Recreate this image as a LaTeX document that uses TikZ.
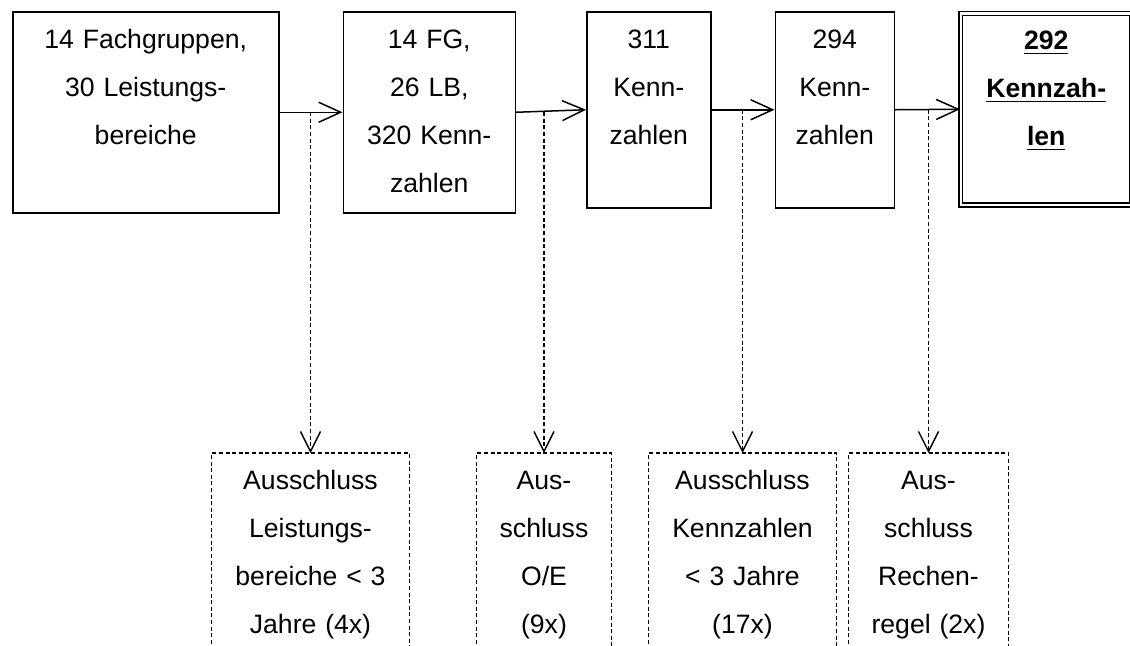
\documentclass[tikz,border=0pt]{standalone}
\usepackage{fontspec}
\setmainfont{Liberation Sans}
\usetikzlibrary{positioning,arrows.meta}

\begin{document}
\begin{tikzpicture}[
    node distance=31.5pt,
    box/.style={rectangle, draw=black, line width=0.75pt, inner sep=0pt, align=center, text height=18.25pt, font=\fontsize{13.3}{24}\selectfont},
    finalbox/.style={box, double, double distance=1.2pt},
    exclbox/.style={rectangle, inner sep=0pt, align=center, text height=18.25pt, text depth=80pt, font=\fontsize{13.3}{24}\selectfont},
    exclline/.style={line width=0.7pt, dash pattern=on 2pt off 1.3pt},
    arrow/.style={-{Straight Barb[length=11pt,width=10pt]}, line width=0.75pt},
    dasharrow/.style={exclline, -{Straight Barb[length=10pt,width=10pt]}}
]
    \useasboundingbox (0,0) rectangle (565pt,-322.5pt);

    % Kennzahlen-Auswahl, Stufen
    \node[box, anchor=north west, text width=133pt, text depth=82.25pt] (stage1) at (6pt,-5.5pt) {14 Fachgruppen,\\30 Leistungs-\\bereiche};
    \node[box, right=of stage1.north east, anchor=north west, text width=86pt, text depth=82.25pt] (stage2) {14 FG,\\26 LB,\\320 Kenn-\\zahlen};
    \node[box, right=35pt of stage2.north east, anchor=north west, text width=62pt, text depth=79.75pt] (stage3) {311\\Kenn-\\zahlen};
    \node[box, right=of stage3.north east, anchor=north west, text width=59.5pt, text depth=79.75pt] (stage4) {294\\Kenn-\\zahlen};
    \node[finalbox, right=32.5pt of stage4.north east, anchor=north west, yshift=-0.8pt, text width=85.5pt, text depth=77.65pt] (stage5) {\underline{\textbf{292}}\\\underline{\textbf{Kennzah-}}\\\underline{\textbf{len}}};

    % Ausschluesse
    \node[exclbox, anchor=north, text width=98.5pt] (excl1) at (155.25pt,-226.5pt) {Ausschluss\\Leistungs-\\bereiche < 3\\Jahre (4x)};
    \node[exclbox, anchor=north, text width=67pt] (excl2) at (272pt,-226.5pt) {Aus-\\schluss\\O/E\\(9x)};
    \node[exclbox, anchor=north, text width=93.5pt] (excl3) at (371.25pt,-226.5pt) {Ausschluss\\Kennzahlen\\< 3 Jahre\\(17x)};
    \node[exclbox, anchor=north, text width=79.5pt] (excl4) at (464.25pt,-226.5pt) {Aus-\\schluss\\Rechen-\\regel (2x)};

    \draw[exclline] (excl1.south west) -- (excl1.north west) -- (excl1.north east) -- (excl1.south east);
    \draw[exclline] (excl2.south west) -- (excl2.north west) -- (excl2.north east) -- (excl2.south east);
    \draw[exclline] (excl3.south west) -- (excl3.north west) -- (excl3.north east) -- (excl3.south east);
    \draw[exclline] (excl4.south west) -- (excl4.north west) -- (excl4.north east) -- (excl4.south east);

    \draw[arrow] (stage1.east) -- (stage2.west);
    \draw[arrow] (stage2.east) -- (stage3.west);
    \draw[arrow] (stage3.east) -- (stage4.west);
    \draw[arrow] (stage4.east) -- (stage5.west);

    \draw[dasharrow] (excl1.north |- stage1.east) -- (excl1.north);
    \draw[dasharrow] (excl2.north |- stage2.east) -- (excl2.north);
    \draw[dasharrow] (excl3.north |- stage3.east) -- (excl3.north);
    \draw[dasharrow] (excl4.north |- stage4.east) -- (excl4.north);
\end{tikzpicture}
\end{document}
